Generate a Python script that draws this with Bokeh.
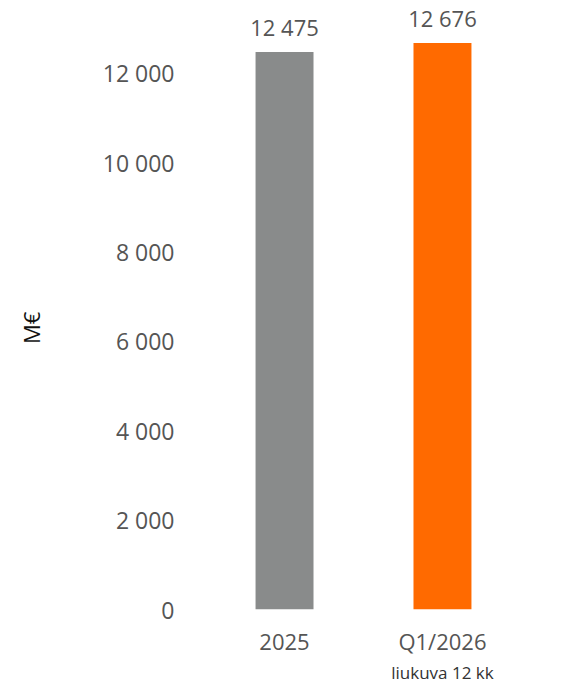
from bokeh.plotting import figure
from bokeh.models import Range1d, FactorRange, FixedTicker, CategoricalAxis, ColumnDataSource
from bokeh.core.properties import value
from bokeh.embed import file_html
from bokeh.resources import INLINE

categories = ["2025", "Q1/2026"]
values = [12475, 12676]
colors = ["#898b8b", "#ff6a00"]
y_ticks = [0, 2000, 4000, 6000, 8000, 10000, 12000]
y_label = "M€"
sub_labels = ["\u00a0", "liukuva 12 kk"]

FONT = "Open Sans"
TXT = "#555555"

def fmt(v):
    return f"{v:,}".replace(",", " ")

src = ColumnDataSource(dict(
    cat=categories, val=values, color=colors,
    lab=[fmt(v) for v in values],
))

PAD = 0.146
p = figure(
    width=563, height=686,
    x_range=FactorRange(*categories, range_padding=PAD, range_padding_units="absolute"),
    y_range=Range1d(0, 13628),
    output_backend="svg", toolbar_location=None,
    min_border_left=182, min_border_right=19, min_border_top=0, min_border_bottom=75,
)
p.extra_x_ranges = {"sub": FactorRange(*sub_labels, range_padding=PAD, range_padding_units="absolute")}
p.outline_line_color = None
p.grid.grid_line_color = None
p.background_fill_color = "white"
p.border_fill_color = "white"

p.vbar(x="cat", top="val", width=0.367, color="color", line_color=None, source=src)

p.text(x="cat", y="val", text="lab", source=src, text_align="center",
       text_baseline="alphabetic", y_offset=-25,
       text_font=value(FONT), text_font_size="22px", text_color=TXT)

# y axis
ya = p.yaxis[0]
ya.ticker = FixedTicker(ticks=y_ticks)
ya.major_label_overrides = {t: fmt(t) for t in y_ticks}
ya.axis_line_color = None
ya.major_tick_line_color = None
ya.minor_tick_line_color = None
ya.major_tick_out = 0
ya.minor_tick_out = 0
ya.major_label_standoff = 8
ya.major_label_text_font = FONT
ya.major_label_text_font_size = "23px"
ya.major_label_text_color = TXT
ya.axis_label = y_label + "\u00a0" * 8
ya.axis_label_standoff = 54
ya.axis_label_text_font = FONT
ya.axis_label_text_font_size = "22px"
ya.axis_label_text_font_style = "normal"
ya.axis_label_text_color = "#111111"

# x axis
xa = p.xaxis[0]
xa.axis_line_color = None
xa.major_tick_line_color = None
xa.minor_tick_line_color = None
xa.major_tick_out = 0
xa.major_label_standoff = 16
xa.major_label_text_font = FONT
xa.major_label_text_font_size = "22px"
xa.major_label_text_color = TXT

# second line of x labels
xa2 = CategoricalAxis(
    x_range_name="sub",
    axis_line_color=None, major_tick_line_color=None, minor_tick_line_color=None,
    major_tick_out=0, major_label_standoff=2,
    major_label_text_font=FONT, major_label_text_font_size="17px",
    major_label_text_color="#333333",
)
p.add_layout(xa2, "below")

open("out.html", "w").write(file_html(p, INLINE))
